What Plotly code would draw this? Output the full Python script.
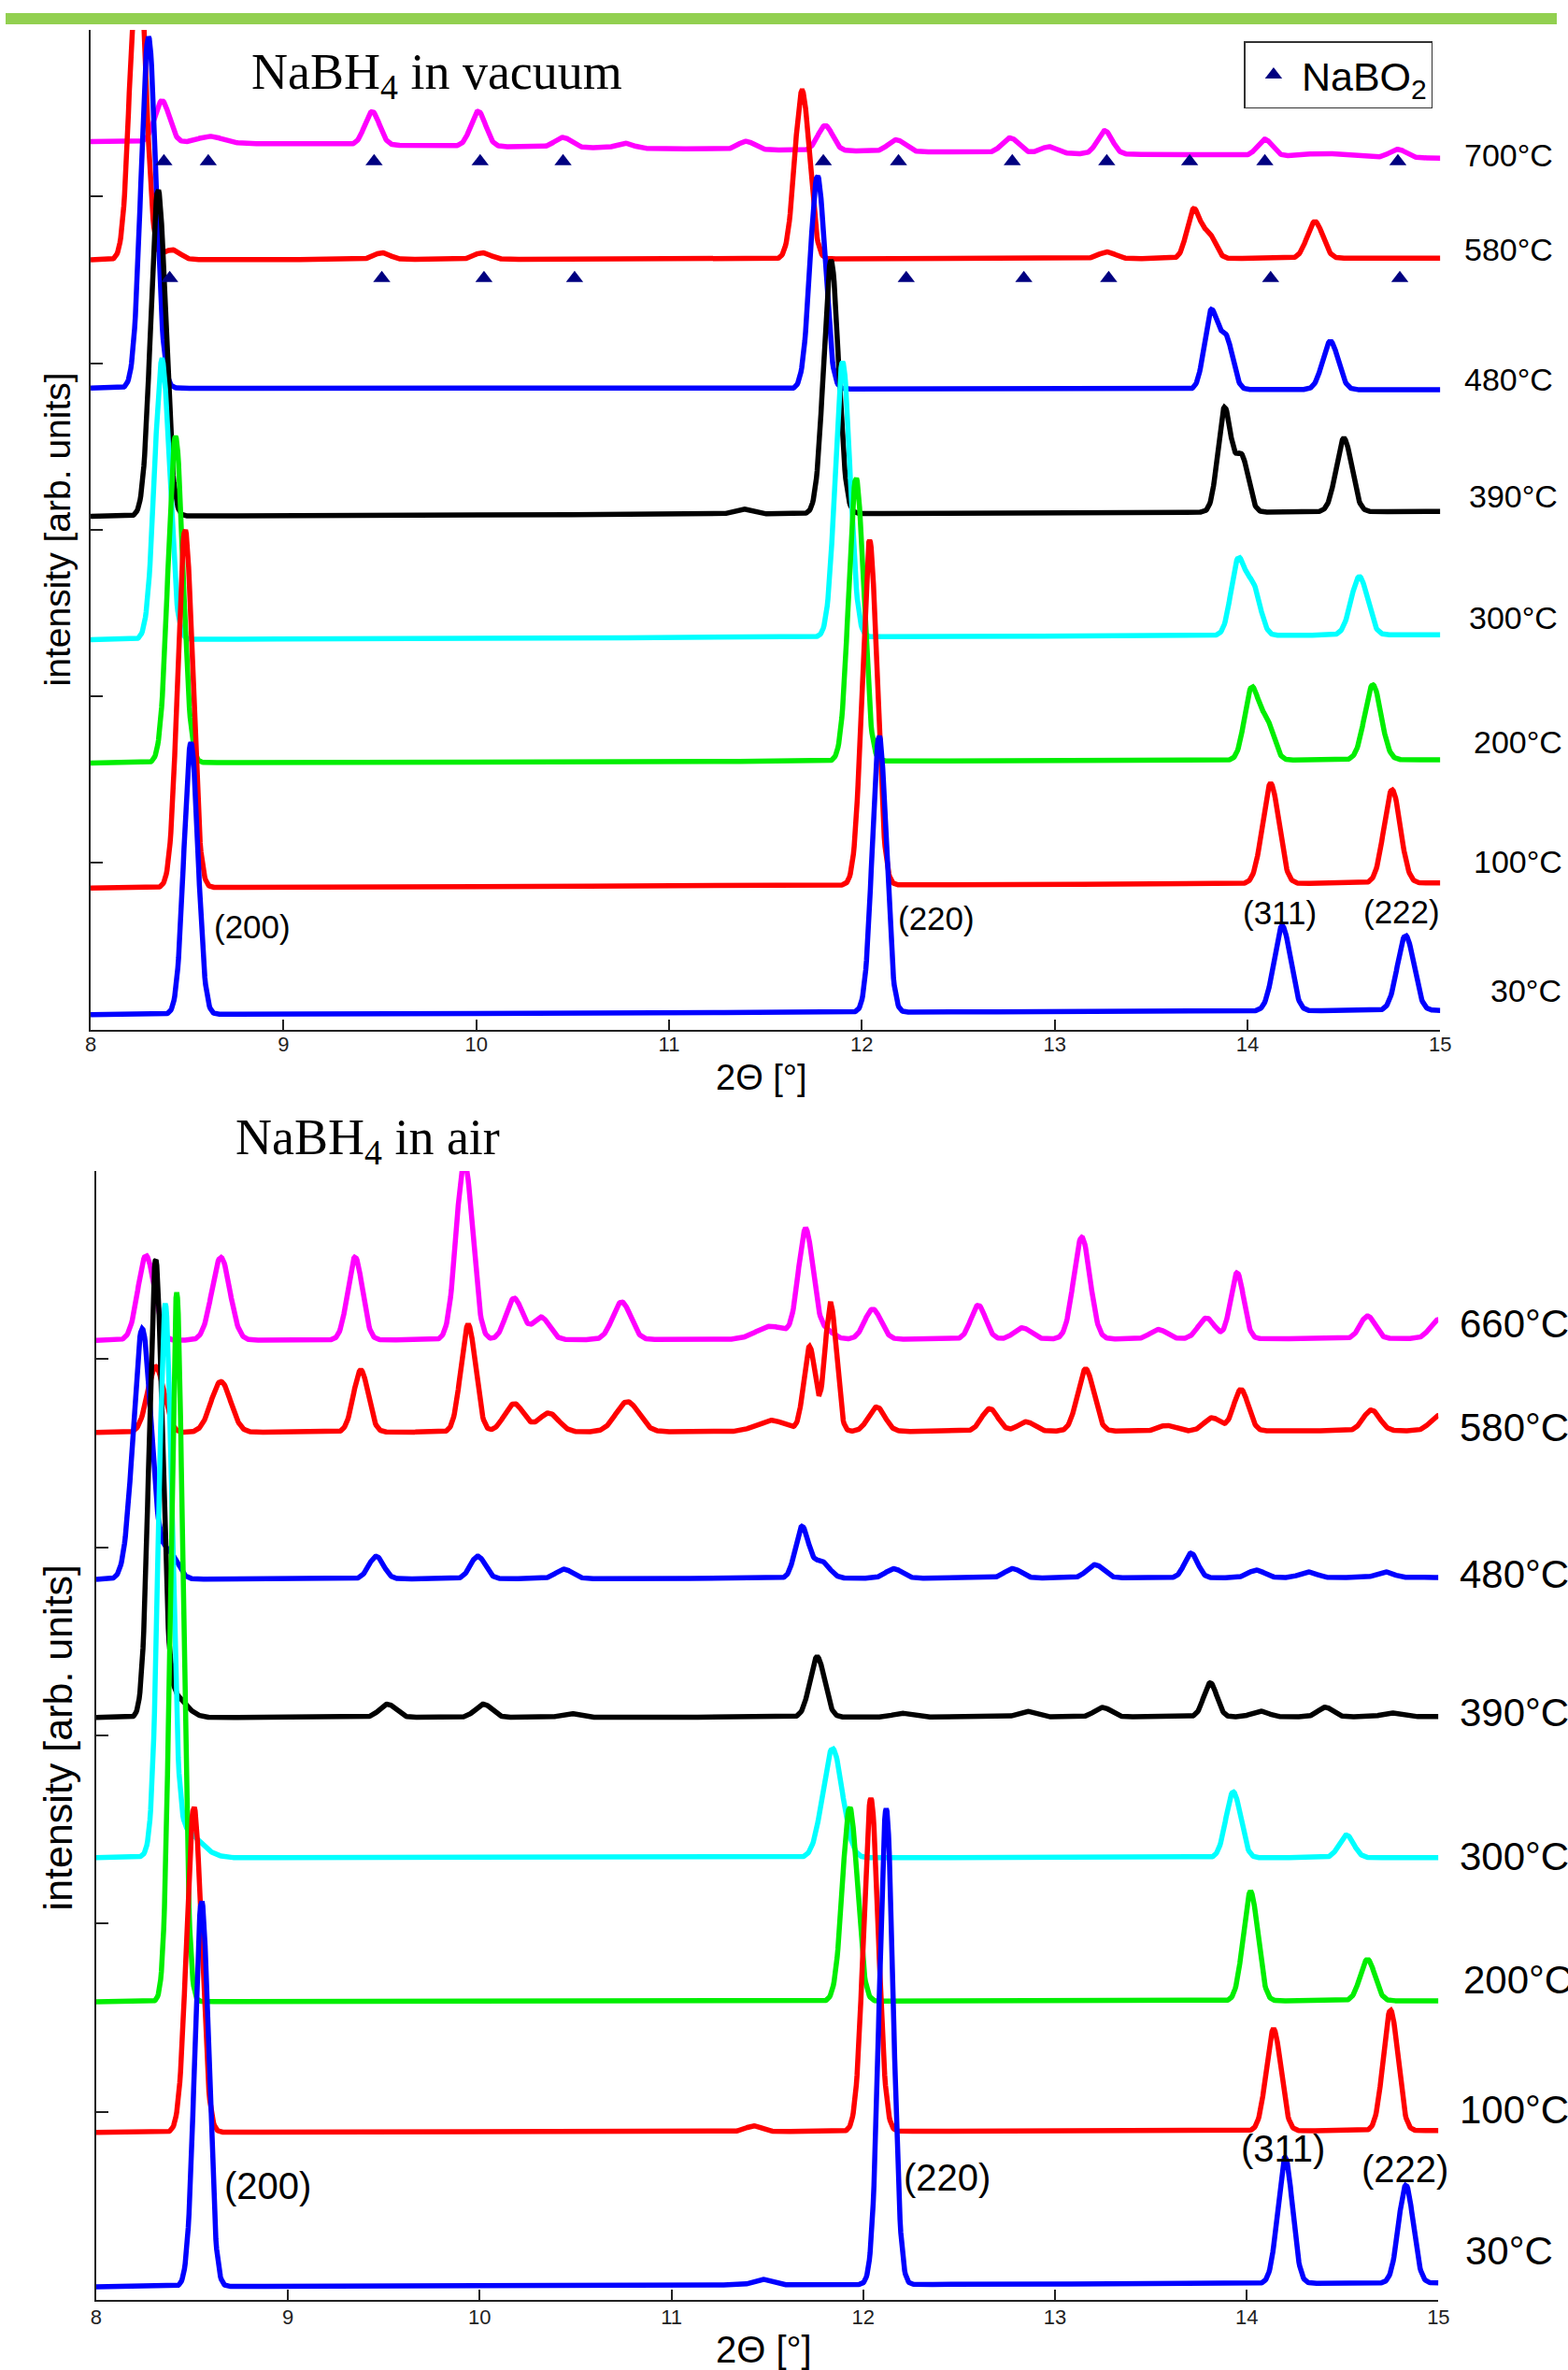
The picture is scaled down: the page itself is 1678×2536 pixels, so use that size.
import numpy as np
import plotly.graph_objects as go

# 2-theta grid of the diffraction scans (degrees)
two_theta = np.round(np.arange(8.0, 15.0001, 0.004), 4)

# ---------------- NaBH4 heated in vacuum ----------------
vac_labels = ["30°C", "100°C", "200°C", "300°C", "390°C", "480°C", "580°C", "700°C"]
# baseline level of each stacked scan at 8° and at 15° (arb. units)
vac_30_base = [0.09, 0.115]
vac_100_base = [0.85, 0.88]
vac_200_base = [1.60, 1.62]
vac_300_base = [2.34, 2.37]
vac_390_base = [3.08, 3.11]
vac_480_base = [3.85, 3.84]
vac_580_base = [4.62, 4.63]
vac_700_base = [5.33, 5.23]
# reflections: [2theta, height above baseline, FWHM]
vac_30_peaks = [[8.52, 1.63, 0.085], [12.09, 1.66, 0.085], [14.18, 0.51, 0.10], [14.82, 0.45, 0.10]]
vac_100_peaks = [[8.49, 2.15, 0.09], [12.04, 2.07, 0.09], [14.12, 0.60, 0.10], [14.75, 0.56, 0.10]]
vac_200_peaks = [[8.44, 1.96, 0.09], [11.97, 1.70, 0.09], [14.02, 0.42, 0.085], [14.10, 0.22, 0.085],
                 [14.65, 0.45, 0.10]]
vac_300_peaks = [[8.37, 1.68, 0.09], [11.90, 1.65, 0.09], [13.95, 0.44, 0.085], [14.03, 0.28, 0.085],
                 [14.58, 0.35, 0.10]]
vac_390_peaks = [[8.35, 1.96, 0.09], [11.38, 0.03, 0.10], [11.84, 1.52, 0.09], [13.88, 0.62, 0.08],
                 [13.97, 0.33, 0.08], [14.50, 0.44, 0.095]]
vac_480_peaks = [[8.30, 2.11, 0.09], [11.77, 1.28, 0.09], [13.81, 0.46, 0.08], [13.89, 0.30, 0.08],
                 [14.43, 0.29, 0.095]]
vac_580_peaks = [[8.245, 2.00, 0.09], [8.42, 0.06, 0.10], [9.51, 0.04, 0.10], [10.03, 0.04, 0.10],
                 [11.69, 1.01, 0.09], [13.27, 0.04, 0.10], [13.72, 0.29, 0.08], [13.80, 0.14, 0.08],
                 [14.35, 0.22, 0.095]]
vac_700_peaks = [[8.37, 0.25, 0.09], [8.62, 0.04, 0.15], [9.46, 0.20, 0.09], [10.01, 0.21, 0.09],
                 [10.45, 0.06, 0.10], [10.77, 0.03, 0.10], [11.40, 0.05, 0.10], [11.81, 0.15, 0.09],
                 [12.18, 0.07, 0.10], [12.77, 0.09, 0.10], [12.97, 0.04, 0.10], [13.26, 0.14, 0.09],
                 [14.09, 0.10, 0.09], [14.40, 0.02, 0.25], [14.78, 0.05, 0.10]]
# NaBO2 reflection markers under the 700 °C and 580 °C scans
nabo2_700_x = [8.38, 8.61, 9.47, 10.02, 10.45, 11.80, 12.19, 12.78, 13.27, 13.70, 14.09, 14.78]
nabo2_700_level = 5.21
nabo2_580_x = [8.41, 9.51, 10.04, 10.51, 12.23, 12.84, 13.28, 14.12, 14.79]
nabo2_580_level = 4.51

# ---------------- NaBH4 heated in air ----------------
air_labels = ["30°C", "100°C", "200°C", "300°C", "390°C", "480°C", "580°C", "660°C"]
air_30_base = [0.07, 0.09]
air_100_base = [0.89, 0.90]
air_200_base = [1.585, 1.59]
air_300_base = [2.35, 2.35]
air_390_base = [3.095, 3.10]
air_480_base = [3.83, 3.84]
air_580_base = [4.61, 4.62]
air_660_base = [5.10, 5.11]
air_30_peaks = [[8.55, 2.05, 0.085], [11.47, 0.03, 0.10], [12.12, 2.53, 0.085], [14.20, 0.67, 0.09],
                [14.83, 0.52, 0.09]]
air_100_peaks = [[8.51, 1.73, 0.09], [11.43, 0.03, 0.10], [12.04, 1.77, 0.09], [14.14, 0.54, 0.09],
                 [14.75, 0.64, 0.09]]
air_200_peaks = [[8.42, 3.77, 0.075], [11.93, 1.03, 0.09], [14.02, 0.58, 0.09], [14.63, 0.22, 0.09]]
air_300_peaks = [[8.36, 2.86, 0.08], [8.45, 0.15, 0.20], [11.84, 0.58, 0.12], [13.93, 0.35, 0.09],
                 [14.52, 0.12, 0.09]]
air_390_peaks = [[8.31, 2.39, 0.08], [8.40, 0.12, 0.15], [9.52, 0.07, 0.10], [10.02, 0.07, 0.10],
                 [10.47, 0.02, 0.10], [11.76, 0.32, 0.09], [12.20, 0.02, 0.10], [12.85, 0.03, 0.10],
                 [13.25, 0.05, 0.10], [13.81, 0.18, 0.08], [14.07, 0.03, 0.10], [14.41, 0.05, 0.09],
                 [14.75, 0.02, 0.10]]
air_480_peaks = [[8.24, 1.33, 0.11], [8.38, 0.14, 0.10], [9.46, 0.12, 0.09], [9.99, 0.12, 0.09],
                 [10.44, 0.05, 0.10], [11.68, 0.27, 0.08], [11.78, 0.09, 0.10], [12.16, 0.05, 0.10],
                 [12.78, 0.05, 0.10], [13.21, 0.07, 0.10], [13.71, 0.13, 0.08], [14.05, 0.04, 0.10],
                 [14.32, 0.03, 0.10], [14.72, 0.03, 0.10]]
air_580_peaks = [[8.31, 0.35, 0.10], [8.65, 0.27, 0.12], [9.38, 0.33, 0.09], [9.94, 0.57, 0.09],
                 [10.18, 0.15, 0.12], [10.36, 0.10, 0.12], [10.77, 0.16, 0.14], [11.52, 0.06, 0.18],
                 [11.72, 0.45, 0.07], [11.83, 0.68, 0.07], [12.07, 0.13, 0.10], [12.66, 0.12, 0.10],
                 [12.85, 0.05, 0.10], [13.16, 0.33, 0.10], [13.58, 0.03, 0.10], [13.82, 0.07, 0.10],
                 [13.97, 0.22, 0.09], [14.65, 0.11, 0.10], [15.00, 0.08, 0.10]]
air_660_peaks = [[8.26, 0.45, 0.10], [8.65, 0.44, 0.11], [9.35, 0.44, 0.09], [9.92, 0.95, 0.10],
                 [10.18, 0.22, 0.10], [10.32, 0.12, 0.10], [10.74, 0.20, 0.11], [11.52, 0.07, 0.18],
                 [11.70, 0.58, 0.09], [11.80, 0.05, 0.10], [12.05, 0.16, 0.10], [12.60, 0.18, 0.09],
                 [12.83, 0.06, 0.10], [13.14, 0.54, 0.10], [13.54, 0.05, 0.10], [13.79, 0.11, 0.10],
                 [13.95, 0.35, 0.08], [14.63, 0.12, 0.09], [15.00, 0.10, 0.10]]

# Miller indices of the NaBH4 reflections: [label, 2theta of label start, level]
vac_hkl = [["(200)", 8.63, 0.62], ["(220)", 12.18, 0.666], ["(311)", 13.965, 0.705], ["(222)", 14.59, 0.71]]
air_hkl = [["(200)", 8.656, 0.606], ["(220)", 12.20, 0.65], ["(311)", 13.96, 0.805], ["(222)", 14.59, 0.695]]

vac_bases = [vac_30_base, vac_100_base, vac_200_base, vac_300_base,
             vac_390_base, vac_480_base, vac_580_base, vac_700_base]
vac_peaks = [vac_30_peaks, vac_100_peaks, vac_200_peaks, vac_300_peaks,
             vac_390_peaks, vac_480_peaks, vac_580_peaks, vac_700_peaks]
air_bases = [air_30_base, air_100_base, air_200_base, air_300_base,
             air_390_base, air_480_base, air_580_base, air_660_base]
air_peaks = [air_30_peaks, air_100_peaks, air_200_peaks, air_300_peaks,
             air_390_peaks, air_480_peaks, air_580_peaks, air_660_peaks]

# ---------------- styling ----------------
W, H = 1678, 2536
scan_colors = ["#0000ff", "#ff0000", "#00ee00", "#00ffff", "#000000", "#0000ff", "#ff0000", "#ff00ff"]
marker_color = "#000080"
axis_color = "#222222"
sans = "Liberation Sans, Arial, sans-serif"
narrow = "Liberation Sans Narrow, Arial Narrow, Liberation Sans, sans-serif"
serif = "Liberation Serif, Times New Roman, serif"


def px_x(p):
    return p / W


def px_y(p):
    return 1 - p / H


def scan_profile(x, base, peaks):
    y = base[0] + (base[1] - base[0]) * (x - x[0]) / (x[-1] - x[0])
    for pos, height, fwhm in peaks:
        sigma = fwhm / 2.3548
        y = y + height * np.exp(-0.5 * ((x - pos) / sigma) ** 2)
    return y


fig = go.Figure()

panels = [("x", "y", vac_bases, vac_peaks), ("x2", "y2", air_bases, air_peaks)]
for xa, ya, bases, peaks in panels:
    # hottest scan first so the room-temperature scan ends up on top
    for i in reversed(range(len(bases))):
        fig.add_trace(go.Scatter(
            x=two_theta, y=scan_profile(two_theta, bases[i], peaks[i]),
            mode="lines", line=dict(color=scan_colors[i], width=5.5),
            xaxis=xa, yaxis=ya, showlegend=False, hoverinfo="skip"))

fig.add_trace(go.Scatter(
    x=nabo2_700_x, y=[nabo2_700_level] * len(nabo2_700_x), mode="markers",
    marker=dict(symbol="triangle-up", size=16, color=marker_color),
    name="NaBO<sub>2</sub>", legendgroup="nabo2", showlegend=True, xaxis="x", yaxis="y"))
fig.add_trace(go.Scatter(
    x=nabo2_580_x, y=[nabo2_580_level] * len(nabo2_580_x), mode="markers",
    marker=dict(symbol="triangle-up", size=16, color=marker_color),
    name="NaBO<sub>2</sub>", legendgroup="nabo2", showlegend=False, xaxis="x", yaxis="y"))

annotations = []

# temperature labels at the right end of each scan
vac_label_y = [0.233, 1.01, 1.725, 2.47, 3.20, 3.90, 4.68, 5.25]
vac_label_px = [1604, 1586, 1586, 1581, 1581, 1576, 1576, 1576]
air_label_y = [0.26, 1.01, 1.70, 2.355, 3.12, 3.855, 4.635, 5.19]
air_label_px = [1577, 1571, 1575, 1571, 1571, 1571, 1571, 1571]
for lab, yy, xp in zip(vac_labels, vac_label_y, vac_label_px):
    annotations.append(dict(text=lab, xref="paper", yref="y", x=px_x(xp), y=yy,
                            xanchor="left", yanchor="middle", showarrow=False,
                            font=dict(family=sans, size=34, color="black")))
for lab, yy, xp in zip(air_labels, air_label_y, air_label_px):
    annotations.append(dict(text=lab, xref="paper", yref="y2", x=px_x(xp), y=yy,
                            xanchor="left", yanchor="middle", showarrow=False,
                            font=dict(family=sans, size=42, color="black")))

for lab, xx, yy in vac_hkl:
    annotations.append(dict(text=lab, xref="x", yref="y", x=xx, y=yy, xanchor="left",
                            yanchor="middle", showarrow=False,
                            font=dict(family=sans, size=35, color="black")))
for lab, xx, yy in air_hkl:
    annotations.append(dict(text=lab, xref="x2", yref="y2", x=xx, y=yy, xanchor="left",
                            yanchor="middle", showarrow=False,
                            font=dict(family=sans, size=40, color="black")))

# panel titles
annotations.append(dict(text="NaBH<sub>4</sub> in vacuum", xref="paper", yref="paper",
                        x=px_x(264), y=px_y(80), xanchor="left", yanchor="middle",
                        showarrow=False, font=dict(family=serif, size=54, color="black")))
annotations.append(dict(text="NaBH<sub>4</sub> in air", xref="paper", yref="paper",
                        x=px_x(247), y=px_y(1220), xanchor="left", yanchor="middle",
                        showarrow=False, font=dict(family=serif, size=54, color="black")))

# axis titles
annotations.append(dict(text="2Θ [°]", xref="paper", yref="paper", x=px_x(818), y=px_y(1153),
                        xanchor="center", yanchor="middle", showarrow=False,
                        font=dict(family=sans, size=38, color="black")))
annotations.append(dict(text="2Θ [°]", xref="paper", yref="paper", x=px_x(820), y=px_y(2514),
                        xanchor="center", yanchor="middle", showarrow=False,
                        font=dict(family=sans, size=40, color="black")))
annotations.append(dict(text="intensity [arb. units]", xref="paper", yref="paper",
                        x=px_x(57), y=px_y(566), textangle=-90, xanchor="center",
                        yanchor="middle", showarrow=False,
                        font=dict(family=sans, size=39, color="black")))
annotations.append(dict(text="intensity [arb. units]", xref="paper", yref="paper",
                        x=px_x(57), y=px_y(1859), textangle=-90, xanchor="center",
                        yanchor="middle", showarrow=False,
                        font=dict(family=sans, size=43, color="black")))

x_ticks = [8, 9, 10, 11, 12, 13, 14, 15]
y_ticks = [0, 1, 2, 3, 4, 5, 6]


def x_axis(domain, anchor, standoff):
    return dict(domain=domain, anchor=anchor, range=[8, 15], tickvals=x_ticks,
                ticktext=[str(t) for t in x_ticks], ticks="inside", ticklen=11, tickwidth=1.5,
                tickcolor=axis_color, showline=True, linecolor=axis_color, linewidth=1.5,
                showgrid=False, zeroline=False, mirror=False, ticklabelstandoff=standoff,
                tickfont=dict(family=narrow, size=22, color="#222222"))


def y_axis(domain, anchor):
    return dict(domain=domain, anchor=anchor, range=[0, 6], tickvals=y_ticks,
                showticklabels=False, ticks="inside", ticklen=13, tickwidth=1.5,
                tickcolor=axis_color, showline=True, linecolor=axis_color, linewidth=1.5,
                showgrid=False, zeroline=False, mirror=False)


fig.update_layout(
    width=W, height=H, margin=dict(l=0, r=0, t=0, b=0),
    paper_bgcolor="white", plot_bgcolor="white",
    xaxis=x_axis([px_x(92), px_x(1552)], "y", -5),
    yaxis=y_axis([px_y(1101.7), px_y(32)], "x"),
    xaxis2=x_axis([px_x(98), px_x(1550)], "y2", -2),
    yaxis2=y_axis([px_y(2461), px_y(1253)], "x2"),
    showlegend=True,
    legend=dict(x=px_x(1544), xanchor="right", y=px_y(44), yanchor="top",
                bordercolor="#333333", borderwidth=1.5, bgcolor="white",
                itemwidth=50, tracegroupgap=0,
                font=dict(family=sans, size=43, color="black"), itemsizing="trace"),
    annotations=annotations,
    shapes=[dict(type="rect", xref="paper", yref="paper", x0=0, x1=1,
                 y0=px_y(26), y1=px_y(14), fillcolor="#92d050", line=dict(width=0))],
)

fig.write_html("out.html")
